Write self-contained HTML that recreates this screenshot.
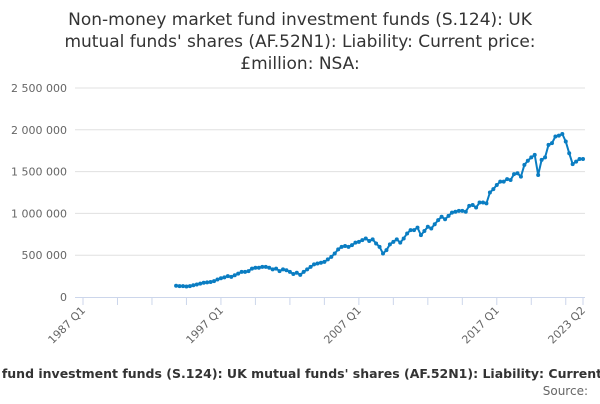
<!DOCTYPE html>
<html><head><meta charset="utf-8"><style>
body{margin:0;background:#fff;width:600px;height:400px;overflow:hidden;font-family:"DejaVu Sans","Liberation Sans",sans-serif}
svg text{font-family:"DejaVu Sans","Liberation Sans",sans-serif}
</style></head><body>
<svg id="chart" width="600" height="400" xmlns="http://www.w3.org/2000/svg">
<g font-size="17" fill="#333" text-anchor="middle">
<text x="300" y="25">Non-money market fund investment funds (S.124): UK</text>
<text x="300" y="47">mutual funds' shares (AF.52N1): Liability: Current price:</text>
<text x="300" y="69">£million: NSA:</text>
</g>
<g id="grid"></g>
<g id="yticks"></g>
<g id="xaxis"></g>
<g id="series"></g>
<text x="307" y="378" font-size="12.5" font-weight="bold" fill="#333" text-anchor="middle">Non-money market fund investment funds (S.124): UK mutual funds' shares (AF.52N1): Liability: Current price: £million: NSA:</text>
<text x="588" y="395" font-size="12" fill="#666" text-anchor="end">Source:</text>
</svg>
<script>
const startQuarter = 27; // 1993 Q4, index from 1987 Q1
const values = [135,
130,130,125,130, 140,150,160,170, 175,180,190,210, 225,235,250,240,
260,280,300,300, 310,340,350,350, 360,360,350,330, 340,310,330,320,
300,275,290,265, 300,330,360,390, 400,410,420,450, 480,520,570,600,
610,600,620,650, 660,680,700,670, 690,640,600,520, 560,630,660,690,
650,700,760,800, 800,830,740,790, 840,820,870,920, 960,930,970,1010,
1020,1030,1030,1020, 1090,1100,1070,1130, 1130,1120,1250,1290, 1340,1380,1380,1410,
1400,1470,1480,1440, 1580,1630,1670,1700, 1460,1640,1670,1820, 1840,1920,1930,1950,
1860,1720,1590,1620, 1650,1650];
const yTicks = [0,500000,1000000,1500000,2000000,2500000];
const yTickLabels = ["0","500 000","1 000 000","1 500 000","2 000 000","2 500 000"];
const xLabelQuarters = [0,40,80,120,145];
const xLabels = ["1987 Q1","1997 Q1","2007 Q1","2017 Q1","2023 Q2"];
const NS="http://www.w3.org/2000/svg";
const x0=83,x1=583,qMax=145,yBase=297,yTop=88,vMax=2500000;
const xs=q=>x0+(x1-x0)*q/qMax;
const ys=v=>yBase-(yBase-yTop)*v/vMax;
function mk(tag,attrs,parent){const e=document.createElementNS(NS,tag);for(const k in attrs)e.setAttribute(k,attrs[k]);parent.appendChild(e);return e;}
const grid=document.getElementById('grid'),yt=document.getElementById('yticks'),xa=document.getElementById('xaxis'),se=document.getElementById('series');
yTicks.forEach((v,i)=>{
  if(v>0){const l=mk('line',{x1:75,x2:585,y1:ys(v),y2:ys(v),stroke:'#e0e0e0','stroke-width':1},grid);
  
  }
  const t=mk('text',{x:67,y:ys(v)+4,'font-size':11,fill:'#666','text-anchor':'end'},yt);
  
  
  t.textContent=yTickLabels[i];
});
const ax=mk('line',{x1:75,x2:585,y1:yBase+0.5,y2:yBase+0.5,stroke:'#ccd6eb','stroke-width':1},xa);


for(let q=0;q<=qMax;q+=10){
  const tk=mk('line',{x1:xs(q),x2:xs(q),y1:yBase,y2:yBase+8,stroke:'#ccd6eb'},xa);
  
  
}
const lt=mk('line',{x1:xs(qMax),x2:xs(qMax),y1:yBase,y2:yBase+8,stroke:'#ccd6eb'},xa);


xLabelQuarters.forEach((q,i)=>{
  const x=xs(q)+3,y=yBase+14;
  const t=mk('text',{x:x,y:y,'font-size':11,fill:'#666','text-anchor':'end',transform:`rotate(-45 ${x} ${y})`},xa);
  
  
  t.textContent=xLabels[i];
});
const pts=values.map((v,i)=>[xs(startQuarter+i),ys(v*1000)]);
const pl=mk('polyline',{points:pts.map(p=>p.join(',')).join(' '),fill:'none',stroke:'#0a7dc2','stroke-width':2,'stroke-linejoin':'round'},se);


pts.forEach(p=>{
  const c=mk('circle',{cx:p[0],cy:p[1],r:2,fill:'#0a7dc2'},se);
  
  
});
</script>
</body></html>
